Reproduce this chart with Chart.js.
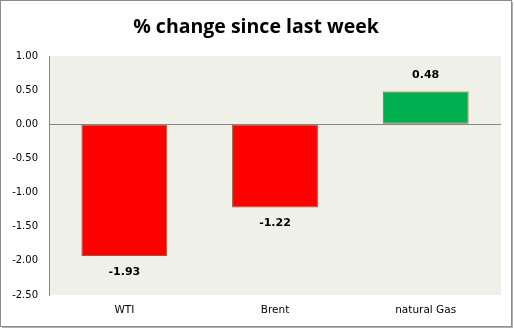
<!DOCTYPE html>
<html><head><meta charset="utf-8">
<script src="https://cdn.jsdelivr.net/npm/chart.js@4"></script>
<style>html,body{margin:0;padding:0;background:#fff}#w{width:514px;height:329px}</style>
</head><body><div id="w"><canvas id="c" width="514" height="329"></canvas></div>
<script>
const categories = ["WTI", "Brent", "natural Gas"];
const changes = [-1.93, -1.22, 0.48];
const barColors = ["#FF0000", "#FF0000", "#00B050"];
const yTicks = [1.00, 0.50, 0.00, -0.50, -1.00, -1.50, -2.00, -2.50];
const titleText = '% change since last week';

const bgPlugin = {
  id: 'bg',
  beforeDraw(chart) {
    const {ctx, chartArea: a} = chart;
    ctx.save();
    ctx.fillStyle = '#fff';
    ctx.fillRect(0, 0, chart.width, chart.height);
    ctx.fillStyle = '#EFF1E9';
    ctx.fillRect(a.left, a.top, a.right - a.left, a.bottom - a.top);
    ctx.strokeStyle = '#8c8c8c';
    ctx.lineWidth = 1;
    ctx.strokeRect(0.5, 0.5, chart.width - 3, chart.height - 3);
    ctx.strokeStyle = '#b0b0b0';
    ctx.beginPath();
    ctx.moveTo(2, chart.height - 1.5); ctx.lineTo(chart.width - 1.5, chart.height - 1.5); ctx.lineTo(chart.width - 1.5, 2);
    ctx.stroke();
    ctx.font = 'bold 19.5px "Open Sans"';
    ctx.fillStyle = '#000';
    ctx.textAlign = 'center';
    ctx.textBaseline = 'middle';
    ctx.fillText(titleText, 256, 27);
    ctx.restore();
  }
};
const labelPlugin = {
  id: 'vals',
  afterDatasetsDraw(chart) {
    const {ctx} = chart;
    const meta = chart.getDatasetMeta(0);
    ctx.save();
    ctx.font = 'bold 11px "DejaVu Sans"';
    ctx.fillStyle = '#000';
    ctx.textAlign = 'center';
    ctx.textBaseline = 'middle';
    meta.data.forEach((bar, i) => {
      const v = changes[i];
      if (v < 0) ctx.fillText(v.toFixed(2), bar.x, bar.y + 16);
      else ctx.fillText(v.toFixed(2), bar.x, bar.y - 16);
    });
    ctx.restore();
  }
};

new Chart(document.getElementById('c'), {
  type: 'bar',
  data: {
    labels: categories,
    datasets: [{
      data: changes,
      backgroundColor: barColors,
      borderColor: '#9C5B34',
      borderWidth: 1,
      borderSkipped: false,
      barPercentage: 0.57,
      categoryPercentage: 1.0
    }]
  },
  options: {
    responsive: false,
    animation: false,
    devicePixelRatio: 1,
    layout: { padding: { left: 0, right: 13, top: 56, bottom: 8 } },
    plugins: {
      legend: { display: false },
      tooltip: { enabled: false },
      title: { display: false }
    },
    scales: {
      x: {
        afterFit(scale) { scale.height = 26; },
        grid: { display: false, drawTicks: false },
        border: { display: false },
        ticks: { font: { family: 'DejaVu Sans', size: 10.5 }, color: '#000', padding: 9 }
      },
      y: {
        min: -2.5, max: 1,
        afterBuildTicks(scale) { scale.ticks = yTicks.map(v => ({ value: v })); },
        afterFit(scale) { scale.width = 49; },
        grid: {
          drawTicks: false,
          color: ctx => (ctx.tick && ctx.tick.value === 0) ? '#868686' : 'rgba(0,0,0,0)',
          lineWidth: 1
        },
        border: { display: true, color: '#868686' },
        ticks: {
          font: { family: 'DejaVu Sans', size: 10 }, color: '#000', padding: 11,
          callback: v => Number(v).toFixed(2)
        }
      }
    }
  },
  plugins: [bgPlugin, labelPlugin]
});
</script></body></html>
